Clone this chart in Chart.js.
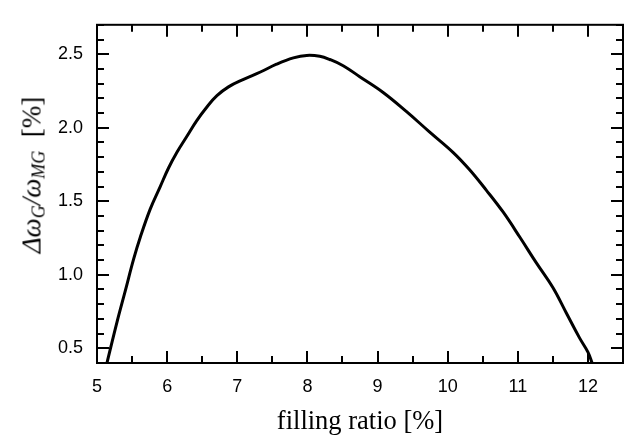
<!DOCTYPE html>
<html>
<head>
<meta charset="utf-8">
<script src="https://cdn.jsdelivr.net/npm/chart.js@4/dist/chart.umd.min.js"></script>
<style>
  body { margin: 0; background: #fff; }
  #wrap { position: relative; width: 628px; height: 441px; }
  #ytitle {
    position: absolute; left: 33px; top: 175px;
    transform: translate(-50%, -50%) rotate(-90deg);
    white-space: nowrap;
    font-family: "Liberation Serif", "DejaVu Serif", serif;
    font-size: 27px; color: #000;
  }
  #ytitle sub { font-size: 18px; vertical-align: -4px; }
</style>
</head>
<body>
<div id="wrap">
  <canvas id="chart"></canvas>
  <div id="ytitle"><i>Δω<sub>G</sub>/ω<sub>MG</sub></i>&nbsp; [%]</div>
</div>
<script>
// filling ratio [%] vs relative frequency shift [%]
const fillingRatio = [5.142, 5.285, 5.404, 5.522, 5.617, 5.76, 5.90, 6.02, 6.14, 6.28, 6.42, 6.57, 6.71,
  6.875, 7.09, 7.33, 7.56, 7.80, 7.99, 8.177, 8.32, 8.51, 8.746, 9.08, 9.41, 9.74, 10.076, 10.31,
  10.55, 10.79, 11.03, 11.26, 11.50, 11.69, 11.88, 12.00, 12.06];
const freqShift = [0.40, 0.678, 0.892, 1.106, 1.255, 1.448, 1.598, 1.726, 1.833, 1.940, 2.047, 2.143, 2.218,
  2.278, 2.329, 2.379, 2.432, 2.475, 2.492, 2.486, 2.464, 2.422, 2.347, 2.24, 2.111, 1.972, 1.833, 1.716,
  1.576, 1.427, 1.255, 1.084, 0.913, 0.742, 0.571, 0.474, 0.40];

const xTicks = [5, 6, 7, 8, 9, 10, 11, 12];
const yTicks = [0.5, 1.0, 1.5, 2.0, 2.5];

const frameTicks = {
  id: "frameTicks",
  afterDraw(chart) {
    const { ctx, chartArea: a, scales: { x, y } } = chart;
    ctx.save();
    ctx.strokeStyle = "#000";
    ctx.lineWidth = 2;
    ctx.strokeRect(a.left, a.top, a.right - a.left, a.bottom - a.top);
    const major = 12, minor = 7;
    ctx.beginPath();
    for (let v = x.min; v <= x.max + 1e-9; v += 0.5) {
      const px = Math.round(x.getPixelForValue(v));
      const len = Math.abs(v - Math.round(v)) < 1e-6 ? major : minor;
      ctx.moveTo(px, a.bottom); ctx.lineTo(px, a.bottom - len);
      ctx.moveTo(px, a.top); ctx.lineTo(px, a.top + len);
    }
    for (let i = 5; i <= 27; i++) {
      const py = Math.round(y.getPixelForValue(i / 10));
      const len = i % 5 === 0 ? major : minor;
      ctx.moveTo(a.left, py); ctx.lineTo(a.left + len, py);
      ctx.moveTo(a.right, py); ctx.lineTo(a.right - len, py);
    }
    ctx.stroke();
    ctx.restore();
  },
};

new Chart(document.getElementById("chart"), {
  type: "line",
  data: {
    datasets: [{
      data: fillingRatio.map((v, i) => ({ x: v, y: freqShift[i] })),
      borderColor: "#000",
      borderWidth: 3,
      pointRadius: 0,
      tension: 0.4,
      fill: false,
    }],
  },
  options: {
    responsive: true,
    maintainAspectRatio: false,
    animation: false,
    layout: { padding: { top: 6, right: 5, left: 0, bottom: 0 } },
    plugins: { legend: { display: false }, tooltip: { enabled: false } },
    scales: {
      x: {
        type: "linear",
        min: 5, max: 12.5,
        afterBuildTicks: (s) => { s.ticks = xTicks.map((v) => ({ value: v })); },
        afterFit: (s) => { s.height = 78; },
        grid: { display: false, drawTicks: false },
        border: { display: false },
        ticks: { padding: 13, maxRotation: 0, color: "#000",
          font: { family: "'Liberation Sans', Arial, sans-serif", size: 18 } },
        title: {
          display: true, text: "filling ratio [%]", color: "#000",
          padding: { top: 0, bottom: 3 },
          font: { family: "'Liberation Serif', 'DejaVu Serif', serif", size: 26.5 },
        },
      },
      y: {
        min: 0.4, max: 2.7,
        afterBuildTicks: (s) => { s.ticks = yTicks.map((v) => ({ value: v })); },
        afterFit: (s) => { s.width = 97; },
        grid: { display: false, drawTicks: false },
        border: { display: false },
        ticks: { padding: 14, color: "#000", callback: (v) => v.toFixed(1),
          font: { family: "'Liberation Sans', Arial, sans-serif", size: 18 } },
      },
    },
  },
  plugins: [frameTicks],
});
</script>
</body>
</html>
